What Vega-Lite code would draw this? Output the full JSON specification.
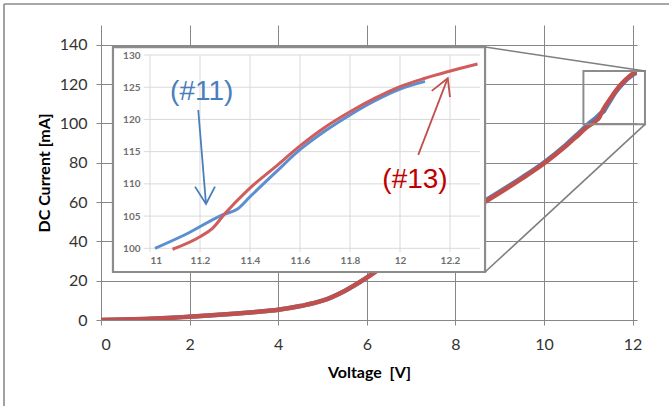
{
  "$schema": "https://vega.github.io/schema/vega-lite/v6.json",
  "width": 536,
  "height": 295,
  "autosize": "none",
  "padding": {"left": 101, "top": 25, "right": 32, "bottom": 86},
  "background": "white",
  "config": {"view": {"stroke": null}, "font": "Lato"},
  "datasets": {
    "curves": [
      {"s": "#11", "v": 0, "i": 0}, {"s": "#11", "v": 0.5, "i": 0.2}, {"s": "#11", "v": 1, "i": 0.5}, {"s": "#11", "v": 1.5, "i": 1}, {"s": "#11", "v": 2, "i": 1.7}, {"s": "#11", "v": 2.5, "i": 2.4}, {"s": "#11", "v": 3, "i": 3.2}, {"s": "#11", "v": 3.5, "i": 4.1}, {"s": "#11", "v": 4, "i": 5.2}, {"s": "#11", "v": 4.5, "i": 7.1}, {"s": "#11", "v": 5, "i": 9.8}, {"s": "#11", "v": 5.5, "i": 14.8}, {"s": "#11", "v": 6, "i": 21.6}, {"s": "#11", "v": 6.5, "i": 29.6}, {"s": "#11", "v": 7, "i": 37.7}, {"s": "#11", "v": 7.5, "i": 45}, {"s": "#11", "v": 8, "i": 51.6}, {"s": "#11", "v": 8.5, "i": 58.3}, {"s": "#11", "v": 9, "i": 65.2}, {"s": "#11", "v": 9.5, "i": 72.4}, {"s": "#11", "v": 10, "i": 80.1}, {"s": "#11", "v": 10.5, "i": 89.2}, {"s": "#11", "v": 10.8, "i": 95.4}, {"s": "#11", "v": 11.02, "i": 100}, {"s": "#11", "v": 11.15, "i": 102.3}, {"s": "#11", "v": 11.29, "i": 105.2}, {"s": "#11", "v": 11.35, "i": 106.1}, {"s": "#11", "v": 11.4, "i": 108}, {"s": "#11", "v": 11.5, "i": 111.7}, {"s": "#11", "v": 11.6, "i": 115.3}, {"s": "#11", "v": 11.7, "i": 118.2}, {"s": "#11", "v": 11.8, "i": 120.7}, {"s": "#11", "v": 11.9, "i": 122.9}, {"s": "#11", "v": 12, "i": 124.7}, {"s": "#11", "v": 12.1, "i": 125.9},
      {"s": "#13", "v": 0, "i": 0}, {"s": "#13", "v": 0.5, "i": 0.2}, {"s": "#13", "v": 1, "i": 0.5}, {"s": "#13", "v": 1.5, "i": 1}, {"s": "#13", "v": 2, "i": 1.7}, {"s": "#13", "v": 2.5, "i": 2.4}, {"s": "#13", "v": 3, "i": 3.2}, {"s": "#13", "v": 3.5, "i": 4.1}, {"s": "#13", "v": 4, "i": 5.2}, {"s": "#13", "v": 4.5, "i": 7.1}, {"s": "#13", "v": 5, "i": 9.8}, {"s": "#13", "v": 5.5, "i": 14.8}, {"s": "#13", "v": 6, "i": 21.5}, {"s": "#13", "v": 6.5, "i": 29.4}, {"s": "#13", "v": 7, "i": 37.3}, {"s": "#13", "v": 7.5, "i": 44.6}, {"s": "#13", "v": 8, "i": 51.1}, {"s": "#13", "v": 8.5, "i": 57.8}, {"s": "#13", "v": 9, "i": 64.7}, {"s": "#13", "v": 9.5, "i": 71.9}, {"s": "#13", "v": 10, "i": 79.6}, {"s": "#13", "v": 10.5, "i": 88.6}, {"s": "#13", "v": 10.8, "i": 94.6}, {"s": "#13", "v": 11, "i": 98.6}, {"s": "#13", "v": 11.09, "i": 99.85}, {"s": "#13", "v": 11.2, "i": 101.8}, {"s": "#13", "v": 11.25, "i": 103.1}, {"s": "#13", "v": 11.3, "i": 105.4}, {"s": "#13", "v": 11.39, "i": 109}, {"s": "#13", "v": 11.5, "i": 112.6}, {"s": "#13", "v": 11.6, "i": 115.9}, {"s": "#13", "v": 11.7, "i": 118.8}, {"s": "#13", "v": 11.8, "i": 121.2}, {"s": "#13", "v": 11.9, "i": 123.3}, {"s": "#13", "v": 12, "i": 125.1}, {"s": "#13", "v": 12.1, "i": 126.4}, {"s": "#13", "v": 12.19, "i": 127.4}, {"s": "#13", "v": 12.31, "i": 128.6}
    ],
    "frame": [
      {"v": -2.19, "i": 160.7, "v2": 14, "i2": 160.7},
      {"v": -2.19, "i": 160.7, "v2": -2.19, "i2": -60}
    ],
    "insetbox": [{"v": 0.27, "v2": 8.67, "i": 24.4, "i2": 138.8}],
    "zoombox": [{"v": 10.89, "v2": 12.28, "i": 99.5, "i2": 126.6}],
    "connectors": [
      {"v": 8.67, "i": 138.8, "v2": 12.28, "i2": 126.6},
      {"v": 8.67, "i": 24.4, "v2": 12.28, "i2": 99.5}
    ],
    "igridv": [{"v": 11}, {"v": 11.2}, {"v": 11.4}, {"v": 11.6}, {"v": 11.8}, {"v": 12}, {"v": 12.2}],
    "igridh": [{"i": 100}, {"i": 105}, {"i": 110}, {"i": 115}, {"i": 120}, {"i": 125}, {"i": 130}],
    "arrows": [
      {"a": "b1", "k": 0, "v": 11.193, "i": 121.47}, {"a": "b1", "k": 1, "v": 11.224, "i": 106.88},
      {"a": "b2", "k": 0, "v": 11.18, "i": 109.57}, {"a": "b2", "k": 1, "v": 11.224, "i": 106.88}, {"a": "b2", "k": 2, "v": 11.26, "i": 109.57},
      {"a": "r1", "k": 0, "v": 12.073, "i": 114.49}, {"a": "r1", "k": 1, "v": 12.191, "i": 126.4},
      {"a": "r2", "k": 0, "v": 12.127, "i": 124.43}, {"a": "r2", "k": 1, "v": 12.191, "i": 126.4}, {"a": "r2", "k": 2, "v": 12.2, "i": 123.45}
    ],
    "notes": [
      {"t": "(#11)", "s": "#11", "v": 11.207, "i": 124.3},
      {"t": "(#13)", "s": "#13", "v": 12.06, "i": 110.6}
    ]
  },
  "layer": [
    {
      "layer": [
        {
          "data": {"name": "curves"},
          "mark": {"type": "line", "strokeWidth": 4.5, "clip": true, "interpolate": "monotone"},
          "encoding": {
            "x": {"field": "v", "type": "quantitative",
              "scale": {"domain": [0, 12.1], "nice": false, "zero": false},
              "axis": {"title": "Voltage\u00a0 [V]", "values": [0, 2, 4, 6, 8, 10, 12], "grid": true, "gridColor": "#878787", "gridOpacity": 1, "gridWidth": 1,
                "domain": false, "ticks": true, "tickSize": 5, "tickColor": "#878787", "tickWidth": 1,
                "labelFontSize": 16, "labelColor": "#333333", "labelPadding": 11, "labelFont": "Lato",
                "titleFontSize": 16, "titleFontWeight": "bold", "titleColor": "#000000", "titlePadding": 12, "titleFont": "Lato"}},
            "y": {"field": "i", "type": "quantitative",
              "scale": {"domain": [0, 150], "nice": false, "zero": false},
              "axis": {"title": "DC Current [mA]", "values": [0, 20, 40, 60, 80, 100, 120, 140], "grid": true, "gridColor": "#878787", "gridOpacity": 1, "gridWidth": 1,
                "domain": false, "ticks": true, "tickSize": 5, "tickColor": "#878787", "tickWidth": 1,
                "labelFontSize": 16, "labelColor": "#333333", "labelPadding": 9, "labelFont": "Lato",
                "titleFontSize": 16, "titleFontWeight": "bold", "titleColor": "#000000", "titlePadding": 7, "titleFont": "Lato"}},
            "color": {"field": "s", "type": "nominal", "scale": {"domain": ["#11", "#13"], "range": ["#4F81BD", "#C0504D"]}, "legend": null}
          }
        },
        {
          "data": {"name": "zoombox"},
          "mark": {"type": "rect", "fill": null, "stroke": "#8C8C8C", "strokeWidth": 2},
          "encoding": {
            "x": {"field": "v", "type": "quantitative"}, "x2": {"field": "v2"},
            "y": {"field": "i", "type": "quantitative"}, "y2": {"field": "i2"}
          }
        },
        {
          "data": {"name": "insetbox"},
          "mark": {"type": "rect", "fill": "white", "stroke": "#8C8C8C", "strokeWidth": 2.2},
          "encoding": {
            "x": {"field": "v", "type": "quantitative"}, "x2": {"field": "v2"},
            "y": {"field": "i", "type": "quantitative"}, "y2": {"field": "i2"}
          }
        },
        {
          "data": {"name": "connectors"},
          "mark": {"type": "rule", "stroke": "#7F7F7F", "strokeWidth": 1.6},
          "encoding": {
            "x": {"field": "v", "type": "quantitative"}, "x2": {"field": "v2"},
            "y": {"field": "i", "type": "quantitative"}, "y2": {"field": "i2"}
          }
        },
        {
          "data": {"name": "frame"},
          "mark": {"type": "rule", "stroke": "#8A8A8A", "strokeWidth": 1.6},
          "encoding": {
            "x": {"field": "v", "type": "quantitative"}, "x2": {"field": "v2"},
            "y": {"field": "i", "type": "quantitative"}, "y2": {"field": "i2"}
          }
        }
      ]
    },
    {
      "layer": [
        {
          "data": {"name": "igridv"},
          "mark": {"type": "rule", "stroke": "#D9D9D9", "strokeWidth": 1},
          "encoding": {
            "x": {"field": "v", "type": "quantitative",
              "scale": {"domain": [11, 12.3], "range": [49, 374], "nice": false, "zero": false},
              "axis": {"orient": "bottom", "offset": -72, "values": [11, 11.2, 11.4, 11.6, 11.8, 12, 12.2], "format": "~g",
                "grid": false, "domain": false, "ticks": false, "labelPadding": 7, "labelFontSize": 10, "labelFontWeight": "bold",
                "labelColor": "#6E6E6E", "labelFont": "Lato", "title": null, "zindex": 1}},
            "y": {"datum": 99.4, "type": "quantitative",
              "scale": {"domain": [100, 130], "range": [223.3, 30], "nice": false, "zero": false},
              "axis": {"orient": "left", "offset": -49, "values": [100, 105, 110, 115, 120, 125, 130],
                "grid": false, "domain": false, "ticks": false, "labelPadding": 10, "labelFontSize": 10, "labelFontWeight": "bold",
                "labelColor": "#6E6E6E", "labelFont": "Lato", "title": null, "zindex": 1}},
            "y2": {"datum": 130}
          }
        },
        {
          "data": {"name": "igridh"},
          "mark": {"type": "rule", "stroke": "#D9D9D9", "strokeWidth": 1},
          "encoding": {
            "y": {"field": "i", "type": "quantitative"},
            "x": {"datum": 10.975, "type": "quantitative"},
            "x2": {"datum": 12.32}
          }
        },
        {
          "data": {"name": "curves"},
          "transform": [{"filter": "datum.i >= 99.8"}],
          "mark": {"type": "line", "strokeWidth": 3, "interpolate": "monotone"},
          "encoding": {
            "x": {"field": "v", "type": "quantitative"},
            "y": {"field": "i", "type": "quantitative"},
            "color": {"field": "s", "type": "nominal", "scale": {"domain": ["#11", "#13"], "range": ["#5B8FD0", "#D05C5C"]}, "legend": null}
          }
        },
        {
          "data": {"name": "arrows"},
          "transform": [{"filter": "indexof(datum.a, 'b') === 0"}],
          "mark": {"type": "line", "stroke": "#4A7EBB", "strokeWidth": 1.8},
          "encoding": {
            "x": {"field": "v", "type": "quantitative"},
            "y": {"field": "i", "type": "quantitative"},
            "detail": {"field": "a"},
            "order": {"field": "k"}
          }
        },
        {
          "data": {"name": "arrows"},
          "transform": [{"filter": "indexof(datum.a, 'r') === 0"}],
          "mark": {"type": "line", "stroke": "#C0504D", "strokeWidth": 1.8},
          "encoding": {
            "x": {"field": "v", "type": "quantitative"},
            "y": {"field": "i", "type": "quantitative"},
            "detail": {"field": "a"},
            "order": {"field": "k"}
          }
        },
        {
          "data": {"name": "notes"},
          "transform": [{"filter": "datum.s === '#11'"}],
          "mark": {"type": "text", "font": "Liberation Sans", "fontSize": 28, "color": "#4A7EBB", "align": "center", "baseline": "middle"},
          "encoding": {
            "x": {"field": "v", "type": "quantitative"},
            "y": {"field": "i", "type": "quantitative"},
            "text": {"field": "t"}
          }
        },
        {
          "data": {"name": "notes"},
          "transform": [{"filter": "datum.s === '#13'"}],
          "mark": {"type": "text", "font": "Liberation Sans", "fontSize": 28, "color": "#C00000", "align": "center", "baseline": "middle"},
          "encoding": {
            "x": {"field": "v", "type": "quantitative"},
            "y": {"field": "i", "type": "quantitative"},
            "text": {"field": "t"}
          }
        }
      ]
    }
  ],
  "resolve": {
    "scale": {"x": "independent", "y": "independent", "color": "independent"},
    "axis": {"x": "independent", "y": "independent"}
  }
}
